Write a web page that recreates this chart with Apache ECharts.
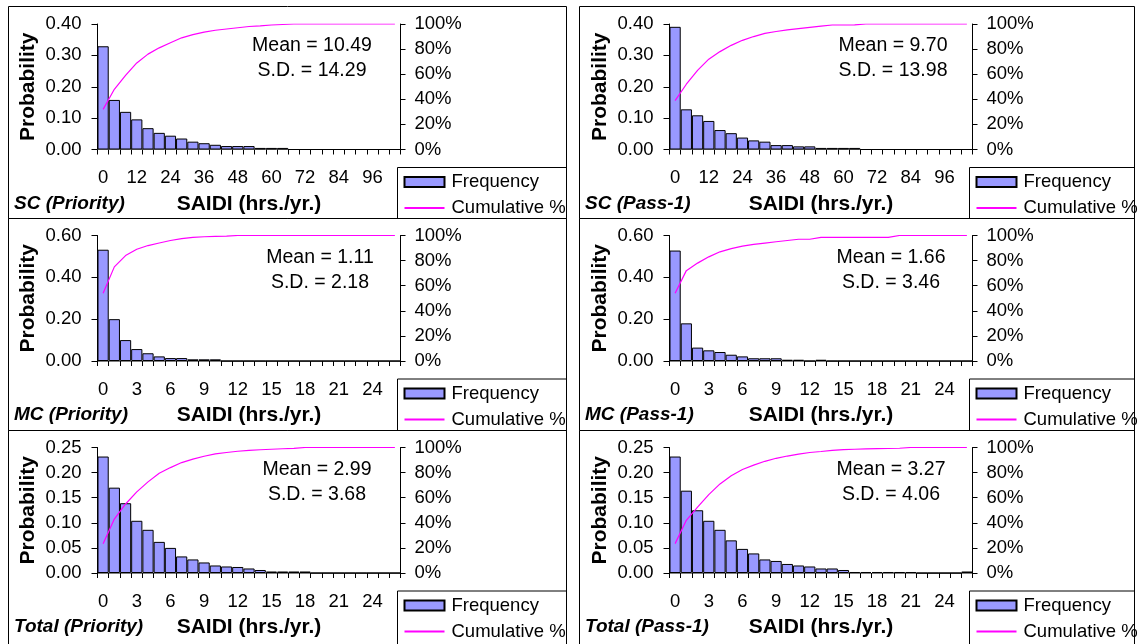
<!DOCTYPE html>
<html>
<head>
<meta charset="utf-8">
<title>SAIDI distributions</title>
<script src="https://cdn.jsdelivr.net/npm/echarts@6.0.0/dist/echarts.min.js"></script>
<style>
  html, body { margin: 0; padding: 0; background: #fff; }
  #chart { width: 1147px; height: 644px; }
</style>
</head>
<body>
<div id="chart"></div>
<script>
  // categories (bin starts)
  var catSC = [0, 4, 8, 12, 16, 20, 24, 28, 32, 36, 40, 44, 48, 52, 56, 60, 64, 68, 72, 76, 80, 84, 88, 92, 96, 100, 104]
  var catMC = [0, 1, 2, 3, 4, 5, 6, 7, 8, 9, 10, 11, 12, 13, 14, 15, 16, 17, 18, 19, 20, 21, 22, 23, 24, 25, 26]

  // probability per bin
  var scPriorityFreq = [0.329, 0.158, 0.120, 0.096, 0.068, 0.053, 0.044, 0.035, 0.025, 0.020, 0.015, 0.011, 0.011, 0.011, 0.005, 0.005, 0.005, 0, 0, 0, 0, 0, 0, 0, 0, 0, 0]
  var scPass1Freq = [0.391, 0.128, 0.109, 0.091, 0.062, 0.052, 0.038, 0.029, 0.025, 0.014, 0.014, 0.010, 0.010, 0.005, 0.005, 0.005, 0.005, 0, 0, 0, 0, 0, 0, 0, 0, 0, 0]
  var mcPriorityFreq = [0.532, 0.200, 0.100, 0.057, 0.037, 0.022, 0.014, 0.014, 0.008, 0.008, 0.008, 0, 0, 0, 0, 0, 0, 0, 0, 0, 0, 0, 0, 0, 0, 0, 0]
  var mcPass1Freq = [0.528, 0.180, 0.064, 0.051, 0.043, 0.030, 0.022, 0.013, 0.013, 0.013, 0.006, 0.006, 0, 0.006, 0, 0, 0, 0, 0, 0, 0, 0, 0, 0, 0, 0, 0]
  var totalPriorityFreq = [0.232, 0.170, 0.139, 0.104, 0.086, 0.062, 0.050, 0.033, 0.027, 0.021, 0.015, 0.013, 0.012, 0.009, 0.006, 0.003, 0.003, 0.003, 0.003, 0, 0, 0, 0, 0, 0, 0, 0]
  var totalPass1Freq = [0.232, 0.164, 0.125, 0.104, 0.086, 0.065, 0.048, 0.039, 0.027, 0.024, 0.018, 0.015, 0.013, 0.009, 0.009, 0.006, 0.002, 0.002, 0.002, 0.002, 0.002, 0.002, 0, 0, 0, 0, 0.003]

  // cumulative %
  var scPriorityCum = [32, 48, 59, 69, 76, 81, 85, 89, 91.5, 93.5, 95, 96, 97, 98, 98.5, 99.2, 99.6, 100, 100, 100, 100, 100, 100, 100, 100, 100, 100]
  var scPass1Cum = [39, 52, 63, 72, 78, 83, 87, 90, 92.5, 94, 95.3, 96.3, 97.3, 98.3, 99.2, 99.2, 99.3, 100, 100, 100, 100, 100, 100, 100, 100, 100, 100]
  var mcPriorityCum = [54, 75, 84, 89, 92, 94, 96, 97.5, 98.5, 99, 99.3, 99.5, 100, 100, 100, 100, 100, 100, 100, 100, 100, 100, 100, 100, 100, 100, 100]
  var mcPass1Cum = [54, 72, 78, 83, 87, 89.5, 91.5, 93, 94, 95, 96, 97, 97, 98.5, 98.5, 98.5, 98.5, 98.5, 98.5, 98.5, 100, 100, 100, 100, 100, 100, 100]
  var totalPriorityCum = [23.4, 43, 55, 64.6, 72.6, 79.5, 84, 88, 90.7, 93, 94.9, 96, 97, 97.7, 98.2, 98.6, 99, 99.3, 100, 100, 100, 100, 100, 100, 100, 100, 100]
  var totalPass1Cum = [23.4, 42, 52.5, 62.5, 71, 77.5, 82.5, 86, 89, 91.4, 93.2, 94.7, 96, 96.8, 97.7, 98.3, 98.6, 98.9, 99.1, 99.2, 99.4, 100, 100, 100, 100, 100, 100]

  var panelLabels = ['SC (Priority)', 'SC (Pass-1)', 'MC (Priority)', 'MC (Pass-1)', 'Total (Priority)', 'Total (Pass-1)']
  var means = ['10.49', '9.70', '1.11', '1.66', '2.99', '3.27']
  var sds = ['14.29', '13.98', '2.18', '3.46', '3.68', '4.06']

  var panels = [
    { cats: catSC, freq: scPriorityFreq, cum: scPriorityCum, yMax: 0.4, yStep: 0.1 },
    { cats: catSC, freq: scPass1Freq, cum: scPass1Cum, yMax: 0.4, yStep: 0.1 },
    { cats: catMC, freq: mcPriorityFreq, cum: mcPriorityCum, yMax: 0.6, yStep: 0.2 },
    { cats: catMC, freq: mcPass1Freq, cum: mcPass1Cum, yMax: 0.6, yStep: 0.2 },
    { cats: catMC, freq: totalPriorityFreq, cum: totalPriorityCum, yMax: 0.25, yStep: 0.05 },
    { cats: catMC, freq: totalPass1Freq, cum: totalPass1Cum, yMax: 0.25, yStep: 0.05 },
  ]

  // layout
  var FONT = '"Liberation Sans", Arial, sans-serif'
  var cellLeft = [8.5, 579.5]
  var cellRight = [566.5, 1134.5]
  var cellTop = [6.5, 218.5, 430.5]
  var cellBottom = [218.5, 430.5, 660]
  var gridLeft = [97.5, 669.5]
  var gridWidth = 303
  var gridTop = [24, 235.5, 447.5]
  var gridHeight = 125.5
  var statX = [[312, 320, 317], [893, 891, 891]]

  var chart = echarts.init(document.getElementById('chart'))
  var option = { animation: false, grid: [], xAxis: [], yAxis: [], series: [], legend: [], graphic: [] }

  panels.forEach(function (p, i) {
    var col = i % 2
    var row = Math.floor(i / 2)
    var gl = gridLeft[col]
    var gt = gridTop[row]
    var gr = gl + gridWidth

    option.grid.push({ left: gl, top: gt, width: gridWidth, height: gridHeight })

    option.xAxis.push({
      type: 'category',
      gridIndex: i,
      data: p.cats,
      boundaryGap: true,
      axisLine: { show: true, lineStyle: { color: '#000', width: 1 } },
      axisTick: { show: true, interval: 0, length: 5, lineStyle: { color: '#000' } },
      axisLabel: { interval: 2, margin: 19, color: '#000', fontSize: 18.5, fontFamily: FONT },
      name: 'SAIDI (hrs./yr.)',
      nameLocation: 'middle',
      nameGap: 44,
      nameTextStyle: { color: '#000', fontSize: 21, fontWeight: 'bold', fontFamily: FONT },
      splitLine: { show: false },
    })

    option.yAxis.push({
      type: 'value',
      gridIndex: i,
      min: 0,
      max: p.yMax,
      interval: p.yStep,
      axisLine: { show: true, lineStyle: { color: '#000' } },
      axisTick: { show: true, length: 6, lineStyle: { color: '#000' } },
      axisLabel: {
        margin: 16,
        color: '#000',
        fontSize: 18.5,
        fontFamily: FONT,
        formatter: function (v) { return v.toFixed(2) },
      },
      splitLine: { show: false },
      name: 'Probability',
      nameLocation: 'middle',
      nameGap: 59,
      nameTextStyle: { color: '#000', fontSize: 21, fontWeight: 'bold', fontFamily: FONT },
    })
    option.yAxis.push({
      type: 'value',
      gridIndex: i,
      position: 'right',
      min: 0,
      max: 100,
      interval: 20,
      axisLine: { show: true, lineStyle: { color: '#000' } },
      axisTick: { show: true, length: 5, lineStyle: { color: '#000' } },
      axisLabel: { margin: 14, color: '#000', fontSize: 18.5, fontFamily: FONT, formatter: '{value}%' },
      splitLine: { show: false },
    })

    option.series.push({
      name: 'Frequency',
      type: 'bar',
      xAxisIndex: i,
      yAxisIndex: 2 * i,
      barCategoryGap: '0%',
      itemStyle: { color: '#9999FF', borderColor: '#000', borderWidth: 1 },
      emphasis: { disabled: true },
      data: p.freq,
    })
    option.series.push({
      name: 'Cumulative %',
      type: 'line',
      xAxisIndex: i,
      yAxisIndex: 2 * i + 1,
      symbol: 'none',
      lineStyle: { color: '#FF00FF', width: 1.2 },
      itemStyle: { color: '#FF00FF' },
      z: 5,
      data: p.cum,
    })

    option.legend.push({
      orient: 'vertical',
      left: gr + 3,
      top: gt + 148.5,
      padding: 0,
      itemWidth: 40,
      itemHeight: 10,
      itemGap: 7,
      selectedMode: false,
      textStyle: { color: '#000', fontSize: 18.5, fontFamily: FONT, padding: [0, 0, 0, 2] },
      data: [
        { name: 'Frequency', icon: 'rect' },
        { name: 'Cumulative %', itemStyle: { opacity: 0 } },
      ],
    })

    // cell border and legend box
    option.graphic.push({
      type: 'rect',
      shape: { x: cellLeft[col], y: cellTop[row], width: cellRight[col] - cellLeft[col], height: cellBottom[row] - cellTop[row] },
      style: { fill: 'none', stroke: '#000', lineWidth: 1 },
      z: 1,
    })
    option.graphic.push({
      type: 'rect',
      shape: { x: Math.round(gr - 4) + 0.5, y: gt + 143.5, width: cellRight[col] - Math.round(gr - 4) - 0.5, height: cellBottom[row] - gt - 143.5 },
      style: { fill: 'none', stroke: '#000', lineWidth: 1 },
      z: 1,
    })

    // mean / s.d. text
    option.graphic.push({
      type: 'text',
      x: statX[col][row],
      y: gt + 22,
      style: { text: 'Mean = ' + means[i], align: 'center', verticalAlign: 'middle', fontSize: 19.5, fontFamily: FONT, fill: '#000' },
      z: 10,
    })
    option.graphic.push({
      type: 'text',
      x: statX[col][row],
      y: gt + 47,
      style: { text: 'S.D. = ' + sds[i], align: 'center', verticalAlign: 'middle', fontSize: 19.5, fontFamily: FONT, fill: '#000' },
      z: 10,
    })

    // panel label
    option.graphic.push({
      type: 'text',
      x: cellLeft[col] + 5.5,
      y: gt + 179.5,
      style: { text: panelLabels[i], align: 'left', verticalAlign: 'middle', fontSize: 19, fontWeight: 'bold', fontStyle: 'italic', fontFamily: FONT, fill: '#000' },
      z: 10,
    })
  })

  // grey top border of each plot area
  panels.forEach(function (p, i) {
    option.xAxis.push({
      type: 'category',
      gridIndex: i,
      position: 'top',
      data: p.cats,
      axisLine: { show: true, lineStyle: { color: '#808080' } },
      axisTick: { show: false },
      axisLabel: { show: false },
      splitLine: { show: false },
    })
  })

  chart.setOption(option)
</script>
</body>
</html>
